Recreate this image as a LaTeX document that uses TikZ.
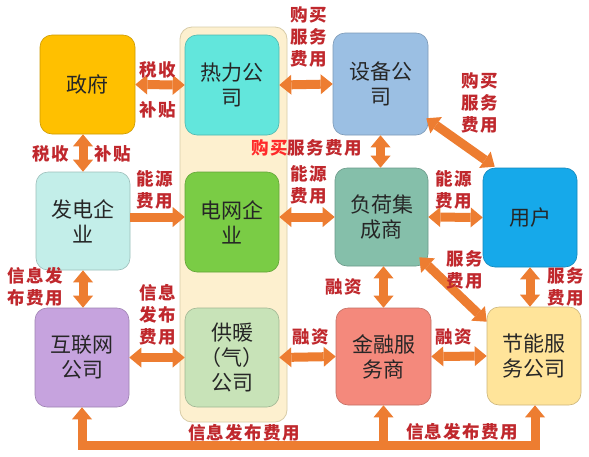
\documentclass[tikz,border=0pt]{standalone}
\usepackage{fontspec}
\newfontfamily\cjk{Noto Sans CJK SC}
\newfontfamily\cjkl[LetterSpace=8]{Noto Sans CJK SC}
\usetikzlibrary{arrows.meta}
\definecolor{arr}{HTML}{ED7D31}
\definecolor{lbl}{HTML}{C0282D}
\definecolor{lblb}{HTML}{FF2A2A}
\definecolor{cGov}{HTML}{FFC000}
\definecolor{cHeat}{HTML}{62E6DC}
\definecolor{cEquip}{HTML}{9BBFE3}
\definecolor{cGen}{HTML}{C3EEE9}
\definecolor{cGrid}{HTML}{7ACC45}
\definecolor{cLoad}{HTML}{85BFAA}
\definecolor{cUser}{HTML}{16A9EA}
\definecolor{cNet}{HTML}{C6A3DE}
\definecolor{cHeatSup}{HTML}{C8E3B8}
\definecolor{cFin}{HTML}{F4897C}
\definecolor{cSave}{HTML}{FFE49A}
\definecolor{cPanel}{HTML}{FDF0CF}
\definecolor{cPanelB}{HTML}{D8CCA8}
\tikzset{
  box/.style={draw=#1!80!black, line width=0.6pt, fill=#1, rounded corners=12pt,
    minimum width=94pt, minimum height=99pt, inner sep=0pt, align=center,
    font=\cjk\fontsize{21}{25}\selectfont, text=black!85},
  lab/.style={text=lbl, font=\cjkl\bfseries\fontsize{17.5}{22}\selectfont, align=center, inner sep=0pt},
  tip/.tip={Triangle[width=20pt,length=12pt,line width=0pt]},
  both/.style={draw=arr, line width=9pt, tip-tip},
  one/.style={draw=arr, line width=9pt, -tip},
}
\begin{document}
\begin{tikzpicture}[x=1pt,y=-1pt]
\useasboundingbox[fill=white] (0,0) rectangle (589,456);
% panel
\node[draw=cPanelB, fill=cPanel, line width=0.8pt, rounded corners=12pt,
  minimum width=107pt, minimum height=395pt, inner sep=0pt] (panel) at (233.5,224.5) {};
% boxes
\node[box=cGov, minimum width=95pt] (gov) at (87.5,84.5) {政府};
\node[box=cHeat, minimum height=100pt] (heat) at (232,85) {热力公\\司};
\node[box=cEquip, minimum width=95pt, minimum height=102pt] (equip) at (380.5,84) {设备公\\司};
\node[box=cGen, minimum height=98pt] (gen) at (83,221) {发电企\\业};
\node[box=cGrid, minimum height=100pt] (grid) at (232,222) {电网企\\业};
\node[box=cLoad, minimum width=93pt, minimum height=98pt] (load) at (381.5,217) {负荷集\\成商};
\node[box=cUser] (user) at (530,217.5) {用户};
\node[box=cNet] (net) at (82,357.5) {互联网\\公司};
\node[box=cHeatSup] (heatsup) at (232,357.5) {供暖\\（气）\\公司};
\node[box=cFin, minimum width=95pt, minimum height=97pt] (fin) at (383.5,356.5) {金融服\\务商};
\node[box=cSave, minimum height=98pt] (save) at (534,356) {节能服\\务公司};
% bus coordinates
\coordinate (busL) at (82,445);
\coordinate (busR) at (535,445);
% arrows
\draw[both] (gov.east) -- (heat.west);
\draw[both] (gen.north) -- (gen.north |- gov.south);
\draw[both] (heat.east) -- (equip.west);
\draw[both] (equip.south) -- (equip.south |- load.north);
\draw[both] ([shift={(-2,-17)}]equip.south east) -- ([shift={(12,-1)}]user.north west);
\draw[one] ([shift={(0,-4)}]gen.east) -- ([shift={(0,-4)}]gen.east -| grid.west);
\draw[both] (load.west -| grid.east) -- (load.west);
\draw[both] (load.east) -- (user.west);
\draw[both] (gen.south) -- (gen.south |- net.north);
\draw[both] (net.east) -- (heatsup.west);
\draw[both] (heatsup.east) -- (fin.west);
\draw[both] (load.south -| fin.north) -- (fin.north);
\draw[both] (fin.east) -- (save.west);
\draw[both] ([shift={(-9,-9)}]load.south east) -- ([shift={(0,15)}]save.north west);
\draw[both] (user.south) -- (user.south |- save.north);
\draw[both, line join=miter] (net.south) -- (busL) -- (busR) -- (busR |- save.south);
\draw[one] (fin.south |- busL) -- (fin.south);
% labels
\node[lab] (t1) at (158,70) {税收};
\node[lab] (t2) at (158,110) {补贴};
\node[lab] (t3) at (51,154) {税收};
\node[lab] (t4) at (113,154) {补贴};
\node[lab] (t5) at (309,37) {购买\\服务\\费用};
\node[lab] (t6) at (306.5,148) {\textcolor{lblb}{购买}服务费用};
\node[lab] (t7) at (480,103) {购买\\服务\\费用};
\node[lab] (t8) at (155,190) {能源\\费用};
\node[lab] (t9) at (309,185) {能源\\费用};
\node[lab] (t10) at (454,190) {能源\\费用};
\node[lab] (t11) at (35,287) {信息发\\布费用};
\node[lab] (t12) at (158,315) {信息\\发布\\费用};
\node[lab] (t13) at (311,337) {融资};
\node[lab] (t14) at (344,287) {融资};
\node[lab] (t15) at (454,337) {融资};
\node[lab] (t16) at (465,270) {服务\\费用};
\node[lab] (t17) at (566,287) {服务\\费用};
\node[lab] (t18) at (244,433) {信息发布费用};
\node[lab] (t19) at (462,432) {信息发布费用};
\end{tikzpicture}
\end{document}
